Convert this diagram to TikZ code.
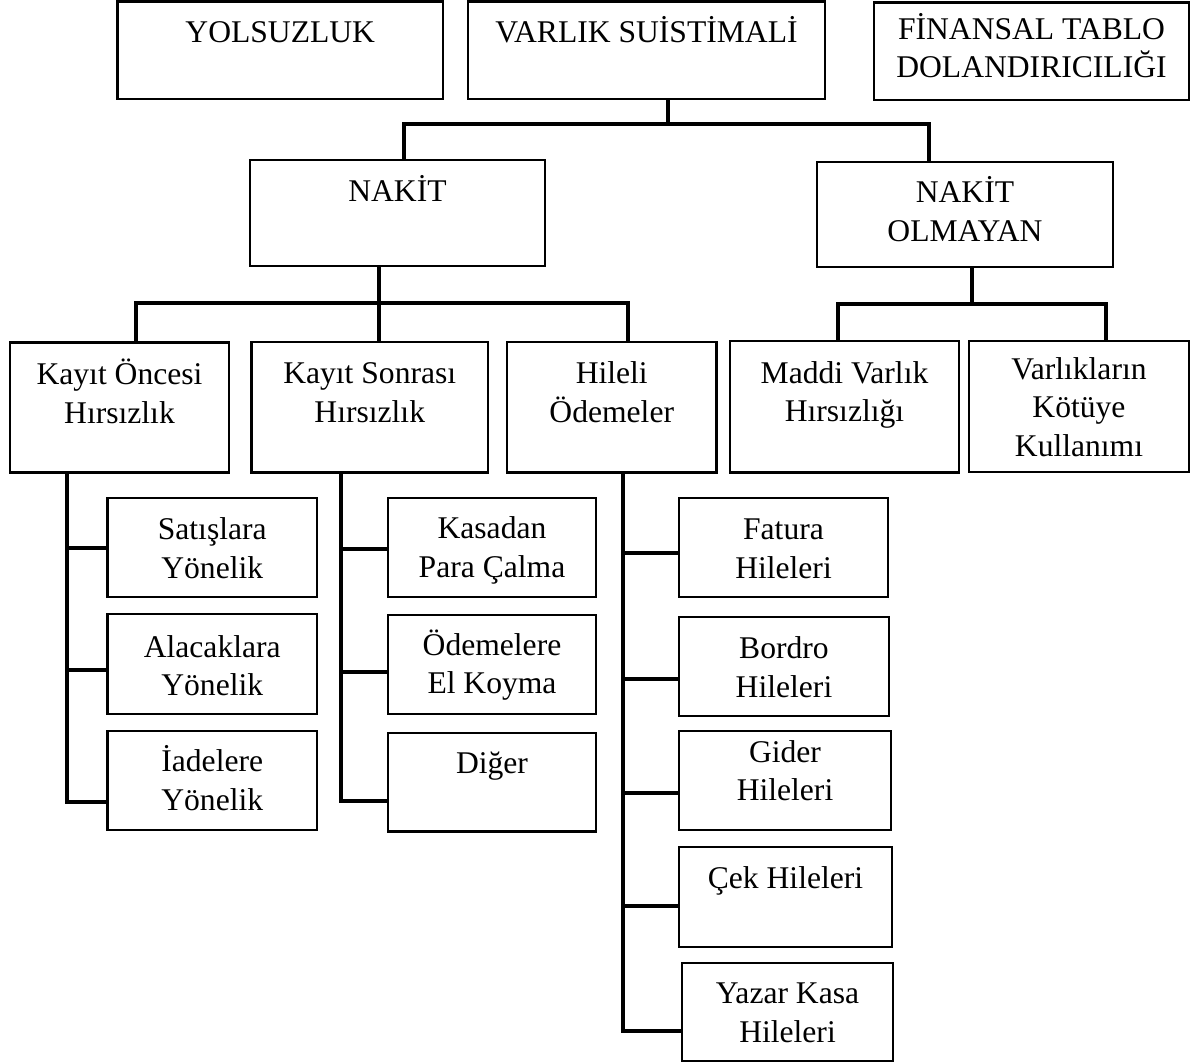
\documentclass[tikz,border=0pt]{standalone}
\usepackage{fontspec}
\setmainfont{Liberation Serif}
% \orgbox{name}{x1}{y1}{x2}{y2}{baseline y of the last line}{text}: framed box with its caption
\newcommand\orgbox[7]{%
  \node[box, minimum width={#4pt-#2pt}, minimum height={#5pt-#3pt}] (#1) at (#2,#3) {};
  \node[lbl] (#1-t) at ({(#2+#4)/2},#6) {#7};}
\begin{document}
\begin{tikzpicture}[x=1pt,y=-1pt,
  box/.style={draw=black, line width=2.2pt, inner sep=0pt, outer sep=0pt, anchor=north west},
  lbl/.style={inner sep=0pt, outer sep=0pt, align=center, anchor=base,
              font=\fontsize{31.6}{38.5}\selectfont},
  conn/.style={draw=black, line width=4pt, line join=miter}]
\useasboundingbox (0,0) rectangle (1195,1062);

% top level
\orgbox{yol}{117.5}{1.5}{443}{99}{43}{YOLSUZLUK}
\orgbox{var}{468}{1.5}{825}{99}{43}{VARLIK SUİSTİMALİ}
\orgbox{fin}{874}{2.5}{1189}{100}{78}{FİNANSAL TABLO\\DOLANDIRICILIĞI}

% second level
\orgbox{nakit}{250}{160}{545}{266}{202}{NAKİT}
\orgbox{nol}{817}{162}{1113}{267}{241}{NAKİT\\OLMAYAN}

% third level
\orgbox{ko}{10}{342.5}{229}{472.5}{423}{Kayıt Öncesi\\Hırsızlık}
\orgbox{ks}{251.5}{342}{488}{472.5}{422}{Kayıt Sonrası\\Hırsızlık}
\orgbox{ho}{507}{342}{716.5}{472.5}{422}{Hileli\\Ödemeler}
\orgbox{mv}{730}{341}{959}{472.5}{421.5}{Maddi Varlık\\Hırsızlığı}
\orgbox{vk}{969}{341}{1189}{472}{456}{Varlıkların\\Kötüye\\Kullanımı}

% Kayıt Öncesi branch
\orgbox{sat}{107.5}{498}{317}{597}{578}{Satışlara\\Yönelik}
\orgbox{ala}{107.5}{614}{317}{714}{695.5}{Alacaklara\\Yönelik}
\orgbox{iad}{107.5}{731}{317}{830}{810}{İadelere\\Yönelik}

% Kayıt Sonrası branch
\orgbox{kas}{388}{498}{596}{597}{577}{Kasadan\\Para Çalma}
\orgbox{ode}{388}{615}{596}{714}{693.5}{Ödemelere\\El Koyma}
\orgbox{dig}{388}{733}{596}{831.5}{773}{Diğer}

% Hileli Ödemeler branch
\orgbox{fat}{679}{498}{888}{597}{578}{Fatura\\Hileleri}
\orgbox{bor}{679}{617}{889}{716}{697}{Bordro\\Hileleri}
\orgbox{gid}{679}{731}{891}{830}{800.5}{Gider\\Hileleri}
\orgbox{cek}{679}{847}{892}{947}{888}{Çek Hileleri}
\orgbox{yaz}{682}{963}{893}{1061}{1042}{Yazar Kasa\\Hileleri}

% connectors: top bar
\coordinate (tM) at (667.5,124);
\coordinate (tL) at (404,124);
\coordinate (tR) at (928.5,124);
\draw[conn] (var.south -| tM) -- (tM);
\draw[conn] (nakit.north -| tL) -- (tL) -- (tR) -- (nol.north -| tR);

% NAKİT children
\coordinate (nL) at (136,303);
\coordinate (nM) at (379,303);
\coordinate (nR) at (628,303);
\draw[conn] (ko.north -| nL) -- (nL) -- (nR) -- (ho.north -| nR);
\draw[conn] (nakit.south -| nM) -- (ks.north -| nM);

% NAKİT OLMAYAN children
\coordinate (oL) at (838,304);
\coordinate (oM) at (972,304);
\coordinate (oR) at (1106,304);
\draw[conn] (mv.north -| oL) -- (oL) -- (oR) -- (vk.north -| oR);
\draw[conn] (nol.south -| oM) -- (oM);

% Kayıt Öncesi spine
\coordinate (a1) at (67,548);
\coordinate (a2) at (67,670);
\coordinate (a3) at (67,802);
\draw[conn] (ko.south -| a3) -- (a3) -- (iad.west |- a3);
\draw[conn] (a1) -- (sat.west |- a1);
\draw[conn] (a2) -- (ala.west |- a2);

% Kayıt Sonrası spine
\coordinate (b1) at (341,549);
\coordinate (b2) at (341,672);
\coordinate (b3) at (341,800.5);
\draw[conn] (ks.south -| b3) -- (b3) -- (dig.west |- b3);
\draw[conn] (b1) -- (kas.west |- b1);
\draw[conn] (b2) -- (ode.west |- b2);

% Hileli Ödemeler spine
\coordinate (c1) at (622.5,553);
\coordinate (c2) at (622.5,679);
\coordinate (c3) at (622.5,793);
\coordinate (c4) at (622.5,906);
\coordinate (c5) at (622.5,1031);
\draw[conn] (ho.south -| c5) -- (c5) -- (yaz.west |- c5);
\draw[conn] (c1) -- (fat.west |- c1);
\draw[conn] (c2) -- (bor.west |- c2);
\draw[conn] (c3) -- (gid.west |- c3);
\draw[conn] (c4) -- (cek.west |- c4);
\end{tikzpicture}
\end{document}
